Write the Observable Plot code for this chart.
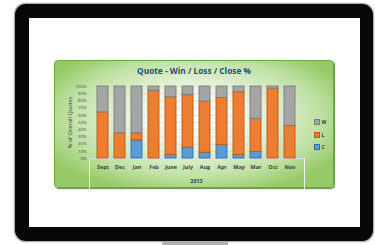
<!DOCTYPE html>
<html>
<head>
<meta charset="utf-8">
<script src="https://cdn.jsdelivr.net/npm/d3@7"></script>
<script src="https://cdn.jsdelivr.net/npm/@observablehq/plot@0.6"></script>
<style>
  html, body { margin: 0; padding: 0; background: #fff; }
  #page { position: relative; width: 375px; height: 245px; overflow: hidden; font-family: "Open Sans", sans-serif; }
  .abs { position: absolute; }
  #frame { left: 15px; top: 4px; width: 358px; height: 237px; background: #070707; border-radius: 11px; box-shadow: 0 0 1.5px 0.5px #9a9a9a; }
  #screen { left: 29px; top: 18px; width: 331px; height: 209px; background: #fff; }
  #stand { left: 162px; top: 242px; width: 66px; height: 3px; background: #b0b0b0; }
  #panel { left: 54px; top: 60px; width: 278px; height: 126px; border: 1px solid #6ea84a; border-radius: 4px;
    background: radial-gradient(ellipse 60% 62% at 50% 45%, #ffffff 0%, #eef7e6 35%, #c0e1a4 75%, #96ca68 100%);
    box-shadow: 1px 1px 1px #5e8f3c; }
  #title { left: 54px; width: 280px; top: 65px; text-align: center; font-weight: 700; font-size: 8.3px; color: #1f4e79; line-height: 12px; }
  #catbox { left: 89px; top: 158px; width: 214px; height: 30px; border: 1px solid #eef2ea; border-bottom: none; }
  #chart { left: 0; top: 0; }
  #chart g[aria-label="y-axis label"] { font-size: 5.6px; }
  #legend { left: 314px; top: 116px; font-size: 5px; font-weight: 700; color: #404040; }
  .item { display: flex; align-items: center; height: 12.5px; }
  .sw { width: 4px; height: 4px; margin-right: 1.5px; border: 0.6px solid; }
</style>
</head>
<body>
<div id="page">
  <div id="frame" class="abs"></div>
  <div id="screen" class="abs"></div>
  <div id="stand" class="abs"></div>
  <div id="panel" class="abs"></div>
  <div id="title" class="abs">Quote - Win / Loss / Close %</div>
  <div id="catbox" class="abs"></div>
  <div id="chart" class="abs"></div>
  <div id="legend" class="abs"></div>
</div>
<script>
const months = ["Sept", "Dec", "Jan", "Feb", "June", "July", "Aug", "Apr", "May", "Mar", "Oct", "Nov"];
const closeVals = [0, 0, 25, 0, 5, 15, 8, 19, 5, 9, 0, 0];
const lossVals  = [64, 35, 10, 94, 80, 73, 71, 65, 87, 46, 97, 45];
const winVals   = [36, 65, 65, 6, 15, 12, 21, 16, 8, 45, 3, 55];
const seriesNames = ["C", "L", "W"];
const legendOrder = ["W", "L", "C"];
const fills   = {W: "#a5a5a5", L: "#ed7d31", C: "#5b9bd5"};
const strokes = {W: "#7b7b7b", L: "#b85a1c", C: "#2f6eab"};
const yTicks = [0, 10, 20, 30, 40, 50, 60, 70, 80, 90, 100];
const yearLabel = "2013";

const valuesBySeries = {C: closeVals, L: lossVals, W: winVals};
const rows = [];
months.forEach((m, i) => {
  let base = 0;
  for (const s of seriesNames) {
    const v = valuesBySeries[s][i];
    rows.push({month: m, series: s, y1: base, y2: base + v});
    base += v;
  }
});

const barMarks = seriesNames.map(s =>
  Plot.barY(rows.filter(d => d.series === s && d.y2 > d.y1), {
    x: "month", y1: "y1", y2: "y2",
    fill: fills[s], stroke: strokes[s], strokeWidth: 0.9
  })
);

const chart = Plot.plot({
  width: 375, height: 245,
  marginLeft: 89, marginRight: 72, marginTop: 86, marginBottom: 87,
  style: {background: "transparent", overflow: "visible", fontFamily: "Open Sans, sans-serif", color: "#404040"},
  x: {domain: months, paddingInner: 0.33, paddingOuter: 0.165},
  y: {domain: [0, 100]},
  marks: [
    Plot.gridY(yTicks, {stroke: "#d4d4d4", strokeOpacity: 1, strokeWidth: 0.6}),
    ...barMarks,
    Plot.axisY({ticks: yTicks, tickSize: 0, tickPadding: 3, fontSize: 4.3, tickFormat: d => d + "%",
      label: "% of Overall Quotes", labelAnchor: "center", labelOffset: 21, labelArrow: "none"}),
    Plot.axisX({tickSize: 0, tickPadding: 7, fontSize: 5.4, fontWeight: 700,
      label: yearLabel, labelAnchor: "center", labelOffset: 24, labelArrow: "none"})
  ]
});
document.getElementById("chart").appendChild(chart);

const legend = document.getElementById("legend");
legendOrder.forEach(s => {
  const it = document.createElement("div");
  it.className = "item";
  const sw = document.createElement("span");
  sw.className = "sw";
  sw.style.background = fills[s];
  sw.style.borderColor = strokes[s];
  const t = document.createElement("span");
  t.textContent = s;
  it.appendChild(sw); it.appendChild(t);
  legend.appendChild(it);
});
</script>
</body>
</html>
